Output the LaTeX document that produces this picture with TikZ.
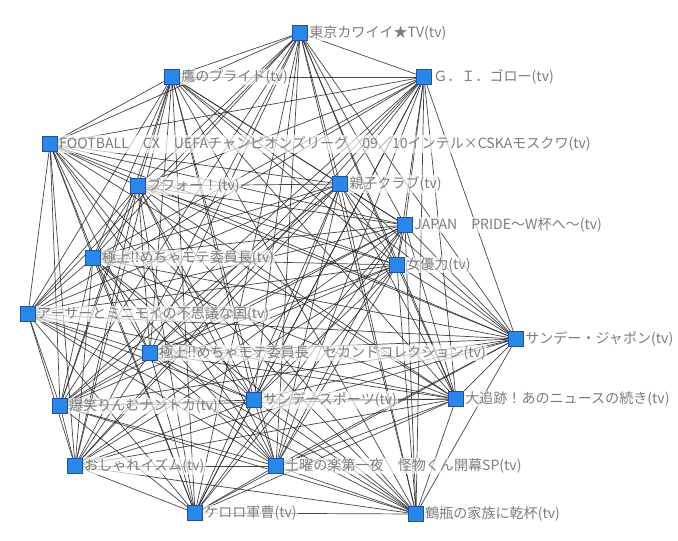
\documentclass[tikz,border=0pt]{standalone}
\usepackage{fontspec}
\newfontfamily\jpfont{Noto Sans CJK JP}
\usetikzlibrary{backgrounds}
\definecolor{nodeblue}{RGB}{40,135,235}
\definecolor{nodeedge}{RGB}{30,80,170}
\definecolor{lblgray}{RGB}{125,125,125}
\tikzset{
  show/.style = {draw=nodeedge, fill=nodeblue, minimum size=0.46cm,
                 inner sep=0pt, line width=0.4pt},
  lbl/.style = {text=lblgray, fill=white, fill opacity=0.65, text opacity=1,
                inner sep=1pt, font=\jpfont\fontsize{12}{14}\selectfont},
  link/.style = {black!85, line width=0.6pt, opacity=0.85}
}

\begin{document}
\begin{tikzpicture}[x=0.03cm, y=-0.03cm]
      \useasboundingbox (0, 0) rectangle (678, 541);

      \node [show, label={[lbl]right:東京カワイイ★TV(tv)}] (tokyo) at (300, 33) {};
      \node [show, label={[lbl]right:鷹のプライド(tv)}] (taka) at (172, 77) {};
      \node [show, label={[lbl]right:Ｇ．Ｉ．ゴロー(tv)}] (goro) at (424, 77) {};
      \node [show, label={[lbl]right:FOOTBALL　CX　UEFAチャンピオンズリーグ　09／10インテル×CSKAモスクワ(tv)}] (football) at (50, 144) {};
      \node [show, label={[lbl]right:ブフォー！(tv)}] (bufo) at (138, 186) {};
      \node [show, label={[lbl]right:親子クラブ(tv)}] (oyako) at (340, 184) {};
      \node [show, label={[lbl]right:JAPAN　PRIDE～W杯へ～(tv)}] (japan) at (405, 225) {};
      \node [show, label={[lbl]right:女優力(tv)}] (joyu) at (397, 265) {};
      \node [show, label={[lbl]right:極上!!めちゃモテ委員長(tv)}] (gokujo) at (93, 258) {};
      \node [show, label={[lbl]right:アーサーとミニモイの不思議な国(tv)}] (arthur) at (28, 314) {};
      \node [show, label={[lbl]right:極上!!めちゃモテ委員長　セカンドコレクション(tv)}] (gokujob) at (150, 353) {};
      \node [show, label={[lbl]right:サンデー・ジャポン(tv)}] (japon) at (516, 339) {};
      \node [show, label={[lbl]right:爆笑りんむナントカ(tv)}] (bakusho) at (60, 406) {};
      \node [show, label={[lbl]right:サンデースポーツ(tv)}] (sports) at (254, 400) {};
      \node [show, label={[lbl]right:大追跡！あのニュースの続き(tv)}] (tsuiseki) at (456, 399) {};
      \node [show, label={[lbl]right:おしゃれイズム(tv)}] (oshare) at (75, 466) {};
      \node [show, label={[lbl]right:土曜の楽第一夜　怪物くん開幕SP(tv)}] (kaibutsu) at (276, 466) {};
      \node [show, label={[lbl]right:ケロロ軍曹(tv)}] (keroro) at (195, 513) {};
      \node [show, label={[lbl]right:鶴瓶の家族に乾杯(tv)}] (tsurube) at (416, 514) {};

      % every show is linked to every other one
      \begin{pgfonlayer}{background}
        \foreach \a [count=\i] in {tokyo, taka, goro, football, bufo, oyako, japan,
            joyu, gokujo, arthur, gokujob, japon, bakusho, sports, tsuiseki,
            oshare, kaibutsu, keroro, tsurube} {
          \foreach \b [count=\j] in {tokyo, taka, goro, football, bufo, oyako, japan,
              joyu, gokujo, arthur, gokujob, japon, bakusho, sports, tsuiseki,
              oshare, kaibutsu, keroro, tsurube} {
            \ifnum\j>\i
              \draw [link] (\a) -- (\b);
            \fi
          }
        }
      \end{pgfonlayer}
    \end{tikzpicture}
\end{document}
